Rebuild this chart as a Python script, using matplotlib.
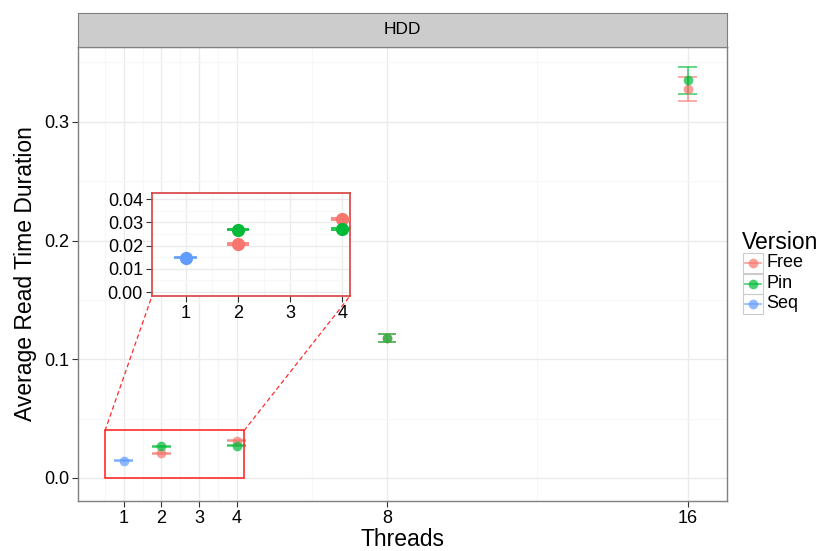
import numpy as np
import matplotlib
matplotlib.use("Agg")
import matplotlib.pyplot as plt
from matplotlib.patches import Rectangle, ConnectionPatch
from matplotlib.lines import Line2D

plt.rcParams.update({'font.family': ['Liberation Sans', 'DejaVu Sans']})

# data
versions = ['Free', 'Pin', 'Seq']
colors = {'Free': '#F8766D', 'Pin': '#00BA38', 'Seq': '#619CFF'}
free_x = [2, 4, 8, 16]
free_y = [0.0208, 0.0313, 0.1180, 0.3278]
free_err = [0.0004, 0.0004, 0.0032, 0.0102]
pin_x = [2, 4, 8, 16]
pin_y = [0.0269, 0.0270, 0.1182, 0.3348]
pin_err = [0.0004, 0.0004, 0.0034, 0.0110]
seq_x = [1]
seq_y = [0.0147]
seq_err = [0.0002]
series = {'Free': (free_x, free_y, free_err),
          'Pin': (pin_x, pin_y, pin_err),
          'Seq': (seq_x, seq_y, seq_err)}
xticks_main = [1, 2, 3, 4, 8, 16]
yticks_main = [0.0, 0.1, 0.2, 0.3]
xticks_in = [1, 2, 3, 4]
yticks_in = [0.00, 0.01, 0.02, 0.03, 0.04]

W, H = 822, 551
fig = plt.figure(figsize=(W / 100, H / 100), dpi=100)
GRID, MINOR, BORDER = '#EBEBEB', '#F7F7F7', '#7F7F7F'


def px(l, t, r, b):
    return [l / W, 1 - b / H, (r - l) / W, (b - t) / H]


def style(ax, size):
    ax.set_axisbelow(True)
    ax.grid(True, which='major', color=GRID, lw=1.0)
    ax.grid(True, which='minor', color=MINOR, lw=0.8)
    ax.tick_params(which='major', length=4, width=0.8, color='#333333',
                   labelsize=size, labelcolor='black', pad=2.5)
    ax.tick_params(which='minor', length=0)
    for s in ax.spines.values():
        s.set_color(BORDER)
        s.set_linewidth(1.0)


def draw(ax, alpha, ms, capw):
    for v in versions:
        xs, ys, es = series[v]
        c = colors[v]
        for x, y, e in zip(xs, ys, es):
            ax.vlines(x, y - e, y + e, color=c, lw=1.2, alpha=alpha, zorder=3)
            ax.hlines([y - e, y + e], x - capw, x + capw, color=c, lw=1.2,
                      alpha=alpha, zorder=3)
        ax.plot(xs, ys, 'o', ms=ms, color=c, alpha=alpha, mec='none', zorder=4)


# main panel
ax = fig.add_axes(px(78, 47, 727, 501))
draw(ax, 0.7, 7, 0.25)
ax.set_xlim(-0.22, 17.04)
ax.set_ylim(-0.0194, 0.363)
ax.set_xticks(xticks_main)
ax.set_yticks(yticks_main)
ax.set_yticklabels([f'{t:.1f}' for t in yticks_main])
ax.set_xticks([0.5, 1.5, 2.5, 3.5, 6, 12], minor=True)
ax.set_yticks([0.05, 0.15, 0.25, 0.35], minor=True)
style(ax, 13)
ax.set_xlabel('Threads', fontsize=16.5, labelpad=1)
ax.set_ylabel('Average Read Time Duration', fontsize=16.5, labelpad=5)
ax.add_patch(Rectangle((0.5, 0.0), 3.7, 0.04, fill=False, ec='#FF2B2B',
                       lw=1.2, zorder=5))

# facet strip
sx = fig.add_axes(px(78, 13, 727, 47))
sx.set_xticks([]); sx.set_yticks([])
sx.set_facecolor('#CCCCCC')
for s in sx.spines.values():
    s.set_color(BORDER)
sx.text(0.5, 0.5, 'HDD', ha='center', va='center', fontsize=12.5,
        transform=sx.transAxes)

# inset zoom
ins = fig.add_axes(px(152, 193, 350, 296))
draw(ins, 1.0, 9.5, 0.22)
ins.set_xlim(0.35, 4.15)
ins.set_ylim(-0.0017, 0.0426)
ins.set_xticks(xticks_in)
ins.set_yticks(yticks_in)
ins.set_yticklabels([f'{t:.2f}' for t in yticks_in])
ins.set_xticks([1.5, 2.5, 3.5], minor=True)
ins.set_yticks([0.005, 0.015, 0.025, 0.035], minor=True)
style(ins, 13)
for s in ins.spines.values():
    s.set_color('#D94040')
    s.set_linewidth(1.2)

for xa, xb in [((0.5, 0.04), (0.0, 0.0)), ((4.2, 0.04), (1.0, 0.0))]:
    con = ConnectionPatch(xyA=xa, coordsA=ax.transData, xyB=xb,
                          coordsB=ins.transAxes, color='#FF2B2B', lw=0.9,
                          ls=(0, (3, 3)))
    fig.add_artist(con)

# legend
fig.text(742 / W, 1 - 242 / H, 'Version', fontsize=16.5, va='center', ha='left')
for i, v in enumerate(versions):
    cy = 263 + i * 20.5
    fig.add_artist(Rectangle((743 / W, 1 - (cy + 10) / H), 20 / W, 20 / H,
                             transform=fig.transFigure, fill=False,
                             ec='#CCCCCC', lw=0.8))
    fig.add_artist(Line2D([745 / W, 761 / W], [1 - cy / H] * 2,
                          transform=fig.transFigure, color=colors[v],
                          alpha=0.7, lw=1.2))
    fig.add_artist(Line2D([753 / W], [1 - cy / H], transform=fig.transFigure,
                          marker='o', ms=7, color=colors[v], alpha=0.7,
                          mec='none'))
    fig.text(766 / W, 1 - cy / H, v, fontsize=13, va='center', ha='left')

fig.savefig('out.png', dpi=100, facecolor='white')
